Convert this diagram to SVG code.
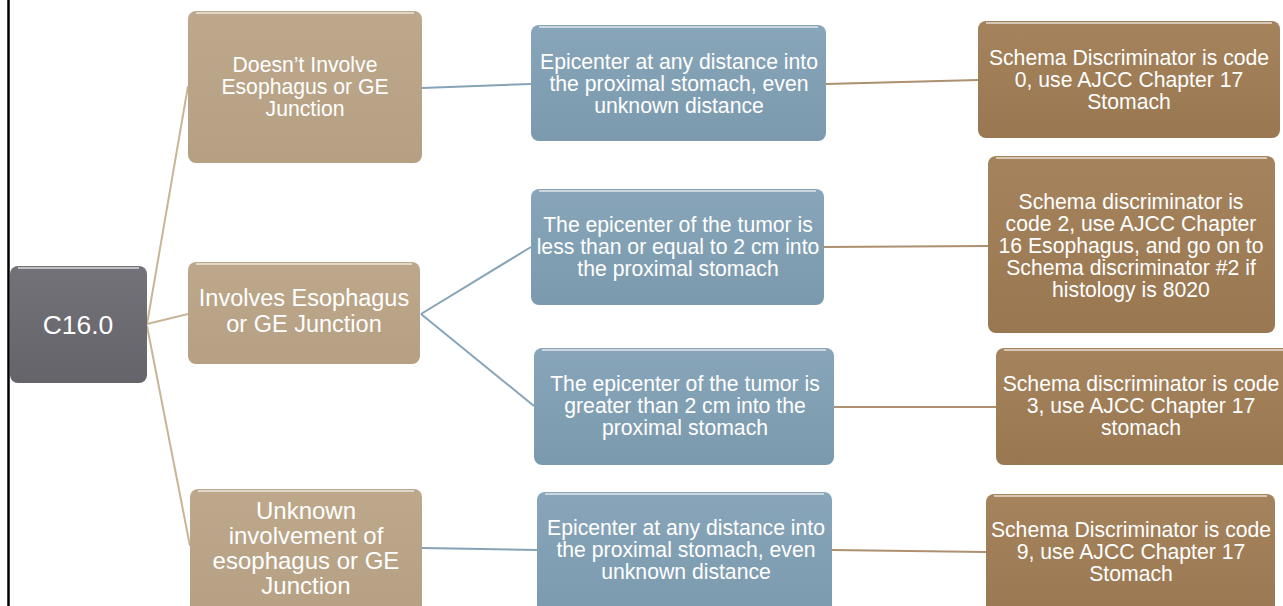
<svg xmlns="http://www.w3.org/2000/svg" width="1283" height="606" viewBox="0 0 1283 606">
<style>
text{font-family:"Liberation Sans",Arial,sans-serif;fill:#ffffff;text-anchor:middle}
.t{font-size:21.2px}
.tl{font-size:24px}
.tm{font-size:23.5px}
.c0{stroke:#c8b597;stroke-width:2;fill:none}
.c1{stroke:#86a3b8;stroke-width:2;fill:none}
.c2{stroke:#ad9070;stroke-width:2;fill:none}
.hl{stroke:#ffffff;stroke-opacity:0.55;stroke-width:2;fill:none}
</style>
<defs>
<linearGradient id="gGrey" x1="0" y1="0" x2="0" y2="1"><stop offset="0" stop-color="#737278"/><stop offset="1" stop-color="#65646a"/></linearGradient>
<linearGradient id="gTan" x1="0" y1="0" x2="0" y2="1"><stop offset="0" stop-color="#bda88b"/><stop offset="1" stop-color="#b5a084"/></linearGradient>
<linearGradient id="gBlue" x1="0" y1="0" x2="0" y2="1"><stop offset="0" stop-color="#88a5b9"/><stop offset="1" stop-color="#7b9aae"/></linearGradient>
<linearGradient id="gBrown" x1="0" y1="0" x2="0" y2="1"><stop offset="0" stop-color="#a5845d"/><stop offset="1" stop-color="#987751"/></linearGradient>
</defs>
<rect width="1283" height="606" fill="#ffffff"/>
<line x1="8.5" y1="0" x2="8.5" y2="606" stroke="#000000" stroke-width="2.5"/>
<g id="connectors">
<line class="c0" x1="147" y1="324" x2="188" y2="86"/>
<line class="c0" x1="147" y1="324" x2="188" y2="314"/>
<line class="c0" x1="147" y1="326" x2="190" y2="546"/>
<line class="c1" x1="422" y1="88" x2="531" y2="84"/>
<line class="c1" x1="421" y1="314" x2="531" y2="247"/>
<line class="c1" x1="421" y1="314" x2="534" y2="406"/>
<line class="c1" x1="422" y1="548" x2="537" y2="550"/>
<line class="c2" x1="826" y1="84" x2="978" y2="80"/>
<line class="c2" x1="824" y1="247" x2="988" y2="246"/>
<line class="c2" x1="834" y1="407" x2="996" y2="407"/>
<line class="c2" x1="832" y1="550" x2="986" y2="552"/>
</g>
<g id="c160">
<rect x="10" y="266" width="137" height="117" rx="8" fill="url(#gGrey)"/>
<line class="hl" x1="18" y1="268" x2="139" y2="268"/>
<text x="78" y="334" style="font-size:26.5px">C16.0</text>
</g>
<g id="doesnt">
<rect x="188" y="11" width="234" height="152" rx="8" fill="url(#gTan)"/>
<line class="hl" x1="196" y1="13" x2="414" y2="13"/>
<text class="t" x="305" y="72">Doesn’t Involve</text>
<text class="t" x="305" y="94">Esophagus or GE</text>
<text class="t" x="305" y="116">Junction</text>
</g>
<g id="involves">
<rect x="188" y="262" width="232" height="102" rx="8" fill="url(#gTan)"/>
<line class="hl" x1="196" y1="264" x2="412" y2="264"/>
<text class="tm" x="304" y="306">Involves Esophagus</text>
<text class="tm" x="304" y="332">or GE Junction</text>
</g>
<g id="unknown">
<rect x="190" y="489" width="232" height="130" rx="8" fill="url(#gTan)"/>
<line class="hl" x1="198" y1="491" x2="414" y2="491"/>
<text class="tl" x="306" y="519">Unknown</text>
<text class="tl" x="306" y="544">involvement of</text>
<text class="tl" x="306" y="569">esophagus or GE</text>
<text class="tl" x="306" y="594">Junction</text>
</g>
<g id="epi1">
<rect x="531" y="25" width="295" height="116" rx="8" fill="url(#gBlue)"/>
<line class="hl" x1="539" y1="27" x2="818" y2="27"/>
<text class="t" x="679" y="69">Epicenter at any distance into</text>
<text class="t" x="679" y="91">the proximal stomach, even</text>
<text class="t" x="679" y="113">unknown distance</text>
</g>
<g id="epi2">
<rect x="531" y="189" width="293" height="116" rx="8" fill="url(#gBlue)"/>
<line class="hl" x1="539" y1="191" x2="816" y2="191"/>
<text class="t" x="678" y="232">The epicenter of the tumor is</text>
<text class="t" x="678" y="254">less than or equal to 2 cm into</text>
<text class="t" x="678" y="276">the proximal stomach</text>
</g>
<g id="epi3">
<rect x="534" y="348" width="300" height="117" rx="8" fill="url(#gBlue)"/>
<line class="hl" x1="542" y1="350" x2="826" y2="350"/>
<text class="t" x="685" y="391">The epicenter of the tumor is</text>
<text class="t" x="685" y="413">greater than 2 cm into the</text>
<text class="t" x="685" y="435">proximal stomach</text>
</g>
<g id="epi4">
<rect x="537" y="492" width="295" height="130" rx="8" fill="url(#gBlue)"/>
<line class="hl" x1="545" y1="494" x2="824" y2="494"/>
<text class="t" x="686" y="535">Epicenter at any distance into</text>
<text class="t" x="686" y="557">the proximal stomach, even</text>
<text class="t" x="686" y="579">unknown distance</text>
</g>
<g id="sd0">
<rect x="978" y="21" width="302" height="117" rx="8" fill="url(#gBrown)"/>
<line class="hl" x1="986" y1="23" x2="1272" y2="23"/>
<text class="t" x="1129" y="65">Schema Discriminator is code</text>
<text class="t" x="1129" y="87">0, use AJCC Chapter 17</text>
<text class="t" x="1129" y="109">Stomach</text>
</g>
<g id="sd2">
<rect x="988" y="156" width="287" height="177" rx="8" fill="url(#gBrown)"/>
<line class="hl" x1="996" y1="158" x2="1267" y2="158"/>
<text class="t" x="1131" y="209">Schema discriminator is</text>
<text class="t" x="1131" y="231">code 2, use AJCC Chapter</text>
<text class="t" x="1131" y="253">16 Esophagus, and go on to</text>
<text class="t" x="1131" y="275">Schema discriminator #2 if</text>
<text class="t" x="1131" y="297">histology is 8020</text>
</g>
<g id="sd3">
<rect x="996" y="348" width="295" height="117" rx="8" fill="url(#gBrown)"/>
<line class="hl" x1="1004" y1="350" x2="1283" y2="350"/>
<text class="t" x="1141" y="391">Schema discriminator is code</text>
<text class="t" x="1141" y="413">3, use AJCC Chapter 17</text>
<text class="t" x="1141" y="435">stomach</text>
</g>
<g id="sd9">
<rect x="986" y="494" width="289" height="130" rx="8" fill="url(#gBrown)"/>
<line class="hl" x1="994" y1="496" x2="1267" y2="496"/>
<text class="t" x="1131" y="537">Schema Discriminator is code</text>
<text class="t" x="1131" y="559">9, use AJCC Chapter 17</text>
<text class="t" x="1131" y="581">Stomach</text>
</g>
</svg>
